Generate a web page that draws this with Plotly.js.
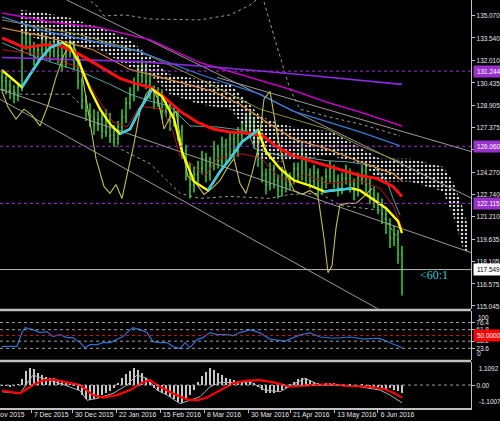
<!DOCTYPE html>
<html><head><meta charset="utf-8">
<script src="https://cdn.plot.ly/plotly-3.0.1.min.js"></script>
<style>html,body{margin:0;padding:0;background:#000;}#chart{width:500px;height:421px;}</style>
</head><body><div id="chart"></div><script>
// ---------- price bars (bar index = position) ----------
const barOpen = [130.81,130.54,130.26,129.85,129.58,130.13,133.54,133.27,132.86,132.18,
132.72,133.41,132.72,132.59,133.13,132.31,131.90,132.59,132.86,132.04,
130.54,129.17,128.48,128.07,127.53,127.94,127.12,128.07,126.84,126.57,
127.39,128.07,129.03,129.58,130.26,130.95,131.36,130.54,129.85,129.17,
129.58,128.48,128.89,127.80,128.21,127.12,125.75,124.38,123.42,124.11,
124.52,125.20,124.11,124.79,125.88,125.06,126.16,125.47,126.57,125.75,
126.84,127.25,127.80,127.53,126.43,125.20,124.11,123.42,124.52,123.70,
123.01,124.11,123.42,123.83,124.52,124.11,125.20,124.11,123.70,124.24,
123.15,123.56,123.97,124.52,123.70,123.15,123.83,124.24,123.42,123.01,
123.83,124.38,123.42,122.74,122.46,122.05,121.37,120.69,119.73,120.00,
118.63];
const barHigh = [131.36,130.95,130.67,130.26,130.40,133.96,134.37,133.82,133.27,133.13,
133.96,133.68,133.27,133.68,133.41,132.86,133.00,133.41,133.27,132.31,
130.81,129.58,129.03,128.62,128.48,128.35,128.62,128.35,127.53,127.80,
128.62,129.44,130.13,130.81,131.63,132.04,131.77,130.95,130.26,130.13,
129.99,129.30,129.17,128.76,128.62,127.53,126.16,124.93,124.65,125.06,
125.75,125.61,125.34,126.43,126.16,126.71,126.57,127.12,126.98,127.39,
127.80,128.35,128.48,127.94,126.84,125.61,124.52,124.93,124.79,124.11,
124.65,124.38,124.24,124.93,124.93,126.29,125.47,124.52,124.79,124.52,
123.97,124.52,125.06,124.79,124.11,124.24,124.79,124.52,123.83,124.24,
124.79,124.65,123.83,123.29,122.87,122.46,121.78,121.10,120.55,120.28,
119.18];
const barLow = [129.85,129.65,129.30,129.03,129.17,129.85,132.72,132.31,131.63,131.77,
132.38,132.18,131.90,132.18,131.77,131.22,131.49,132.18,131.36,129.99,
128.62,127.80,127.39,126.84,127.12,126.57,126.71,126.29,126.02,126.16,
126.98,127.66,128.62,129.17,129.85,130.40,129.99,129.30,128.62,128.76,
127.94,128.07,127.12,127.39,126.43,125.20,123.70,122.46,122.87,123.56,
124.11,123.56,123.70,124.38,124.52,124.65,124.93,125.06,125.20,125.34,
126.43,126.84,126.98,125.88,124.65,123.56,122.74,123.01,123.15,122.46,
122.60,122.87,123.01,123.42,123.56,123.70,123.56,123.15,123.29,122.60,
122.74,123.15,123.56,123.15,122.60,122.74,123.42,122.87,122.33,122.60,
123.42,122.87,122.05,121.78,121.37,120.69,120.00,119.04,119.18,117.95,
115.76];
const barClose = [130.54,130.26,129.85,129.58,130.13,133.54,133.27,132.86,132.18,132.72,
133.41,132.72,132.59,133.13,132.31,131.90,132.59,132.86,132.04,130.54,
129.17,128.48,128.07,127.53,127.94,127.12,128.07,126.84,126.57,127.39,
128.07,129.03,129.58,130.26,130.95,131.36,130.54,129.85,129.17,129.58,
128.48,128.89,127.80,128.21,127.12,125.75,124.38,123.42,124.11,124.52,
125.20,124.11,124.79,125.88,125.06,126.16,125.47,126.57,125.75,126.84,
127.25,127.80,127.53,126.43,125.20,124.11,123.42,124.52,123.70,123.01,
124.11,123.42,123.83,124.52,124.11,125.20,124.11,123.70,124.24,123.15,
123.56,123.97,124.52,123.70,123.15,123.83,124.24,123.42,123.01,123.83,
124.38,123.42,122.74,122.46,122.05,121.37,120.69,119.73,120.00,118.63,
117.549];

// ---------- moving averages on the price panel ----------
const fastX = [0,2,5,7,9.5,12,15,17,19.5,22,24.5,27,29.5,32,34.5,37.5,40,43,45,48,51.5,54.5,57,60,64,66,69.5,73,77,80.5,84.5,87.5,89.5,92.5,96,99,100];
const fastY = [131.30,130.81,130.13,131.01,132.04,132.86,133.20,132.93,131.70,129.99,128.62,127.59,126.91,127.25,128.62,129.99,129.51,127.94,125.68,123.63,123.01,124.31,125.20,126.36,127.18,125.68,124.52,123.70,123.35,122.94,123.08,123.15,123.01,122.46,121.78,120.89,120.07];
const redX = [0,5.75,10.75,14.5,19.5,24.5,29.5,33.25,37,40.25,44.5,48.75,52.75,57,61.25,65.25,68.75,72.75,77,81.25,85.25,89.5,93.75,97.75,100];
const redY = [133.54,132.86,133.07,133.00,132.38,131.56,130.74,130.40,130.13,129.51,128.48,127.73,127.25,127.05,126.98,126.77,126.02,125.41,125.06,124.72,124.38,124.04,123.83,123.29,122.60];
const orangeX = [0,11.25,22.75,32,44.5,52.75,59.5,65.75,72.75,81.25,89.5,97.75,100];
const orangeY = [134.23,133.61,132.72,131.36,130.47,129.85,128.96,127.80,126.57,125.88,124.99,124.17,123.70];
const oliveX = [0,19.5,34.5,47,57,64.5,72.75,81.25,89.5,99.5];
const oliveY = [134.78,133.75,132.59,131.01,129.65,128.62,127.94,127.25,126.09,124.99];
const blueX = [0,11.25,24.5,34.5,49.5,57,64.5,72.75,81.25,89.5,99.5];
const blueY = [134.98,133.96,133.20,132.59,131.01,130.33,129.65,128.48,127.73,127.05,126.09];
const magentaX = [0,12,24.5,37,49.5,62,72,81.25,89.5,100];
const magentaY = [135.25,134.64,134.23,133.41,131.83,130.81,129.99,129.10,128.42,127.46];
const violetX = [0,34.5,54.5,74.5,100];
const violetY = [132.18,131.90,131.49,131.01,130.33];
const tealX = [0,8.75,19.5,27,32,37,42,47,53.75,61.25,63.25,69.5,74.5,81.25,86.25,92.75,96.25,97.75,99.5];
const tealY = [133.20,132.18,131.22,130.33,129.65,129.17,128.82,127.46,127.39,127.12,125.88,125.41,125.34,125.06,124.99,124.72,123.63,122.46,121.30];
const darkRedX = [0,9.5,19.5,23.25,27.75,31.25,34.5,40.25,42.75,44.5,48.75,50.75,53.75,60.25,65,68.75,72.75,75.25,81.25,89.5,94.5,97.75,100];
const darkRedY = [132.72,132.38,131.49,129.65,127.73,127.39,128.82,128.62,127.05,125.41,124.52,123.97,125.20,125.54,125.20,124.04,123.49,124.17,123.49,123.70,123.15,121.98,120.41];
const khakiX = [0,1.5,3.5,5.5,7.5,9.5,11.5,13.5,15.5,17.5,19.5,21.5,23.5,25.5,27,28.5,30,31.5,33,34.5,36,37.5,39,40.5,42,43.5,45,46.5,48.5,50.5,52.5,54.5,56.5,58,59.5,61,62.5,64,65.5,67,69,71,73,75,77,79,80.5,81.5,82.5,83.5,84.5,86.5,88.5,90.5,92.5];
const khakiY = [129.85,128.76,127.94,128.62,128.21,127.46,128.89,130.81,132.38,133.27,131.90,128.62,125.20,123.29,122.81,123.42,122.46,124.38,126.23,128.48,129.65,130.13,129.30,127.25,128.07,128.48,125.88,123.97,123.49,122.74,123.15,123.70,124.65,125.20,123.49,122.81,124.17,125.88,129.30,129.85,126.57,124.17,123.01,122.74,123.01,122.60,119.73,117.33,117.81,120.41,122.05,122.12,122.12,122.60,123.15];
const bandUpX = [0,14.5,23.5,25.5,30.75,37,49.5,57,62,65,68.25,72,74.5,82,89.5,99.5];
const bandUpY = [138.20,137.51,135.80,135.05,135.12,134.84,134.78,135.12,135.80,136.49,133.41,129.99,128.62,128.07,127.59,126.77];
const bandLoX = [0,4.5,17,22,29.5,37,44.5,49.5,57,67,72,79.5,84.5,94.5,99.5];
const bandLoY = [129.99,129.65,129.65,128.28,125.88,124.86,122.81,122.46,122.60,122.46,122.74,122.81,121.98,121.64,119.39];
const cloudX = [4.5,9.5,17,24.5,32,37,42,49.5,57,60.75,64.5,69.5,75.25,82,90.25,94.5,102,110.25,112.75,115.25,116.25];
const cloudUpper = [135.46,135.32,134.91,134.23,133.41,132.18,131.01,130.67,130.33,129.30,128.14,127.59,127.25,127.12,125.88,125.20,125.20,124.65,123.63,121.78,120.75];
const cloudLower = [133.89,133.41,133.07,132.72,131.49,131.01,129.65,128.96,128.62,127.39,125.20,124.99,125.20,125.40,124.86,123.63,123.63,122.94,121.30,119.04,118.70];
const trendX0 = [-0.5,-0.5,16.25,53.75];
const trendY0 = [129.99,129.30,136.14,130.81];
const trendX1 = [117.5,104.5,117.5,117.5];
const trendY1 = [118.70,113.23,122.46,125.68];
const levelPrices = [131.244,126.060,122.115];
const currentPrice = 117.549;
const ratioText = '<60:1';
const ratioPos = [104, 117.2];

// ---------- RSI-like panel ----------
const rsiX = [0,3.75,5,5.75,7.75,9.5,11.25,12.75,14.5,16.25,17.75,19.5,20.75,22,23.75,25.25,27,28.75,30.25,31.5,32.75,34.5,36.25,37.75,39.5,41.25,42.75,44.5,45.75,47,48.75,50.25,52,53.75,56.25,57.75,59.5,62,64.5,67,70.75,74.5,77,79.5,83.25,87,90.75,93.25,94.5,97,100];
const rsiY = [27.7,27.7,55.9,66.1,62.0,55.9,57.9,47.6,51.7,45.6,45.6,35.3,25.0,31.2,31.2,35.3,35.3,41.5,47.6,57.9,66.1,62.0,55.9,37.4,35.3,35.3,27.1,23.0,35.3,25.0,41.5,45.6,55.9,51.7,51.7,49.7,55.9,62.0,55.2,42.5,38.3,51.0,55.2,46.8,44.2,46.8,42.5,44.2,43.4,34.9,24.7];
const rsiLevels = [23.6,38.2,61.8,76.4];
const rsiMid = 50;
const rsiLimits = [0,100];

// ---------- MACD panel ----------
const macdHist = [-0.04,-0.06,-0.08,-0.04,0.04,0.28,0.68,0.84,0.76,0.6,
0.48,0.4,0.36,0.32,0.24,0.2,0.12,0.04,-0.04,-0.24,
-0.48,-0.68,-0.72,-0.68,-0.6,-0.48,-0.36,-0.28,-0.12,0.12,
0.32,0.52,0.68,0.8,0.72,0.56,0.36,0.16,-0.12,-0.28,
-0.4,-0.48,-0.56,-0.68,-0.8,-0.84,-0.72,-0.48,-0.24,0.16,
0.44,0.64,0.8,0.72,0.6,0.48,0.36,0.28,0.24,0.2,
0.16,0.2,0.24,0.12,-0.08,-0.24,-0.36,-0.4,-0.36,-0.32,
-0.24,-0.12,0.04,0.16,0.28,0.36,0.32,0.24,0.16,0.08,
0.04,0.08,0.12,0.08,0.04,0,-0.04,0.04,-0.08,-0.04,
0.04,-0.08,-0.12,-0.08,-0.16,-0.12,-0.2,-0.16,-0.24,-0.28,
-0.36];
const macdX = [0,4.5,6.25,7.75,10.25,14.5,19.5,21.25,23.75,27.75,31.25,33.75,36.25,38.75,41.25,44.5,47,49.5,52,54.5,57.75,62,65.75,69.5,73.25,75.75,79.5,84.5,89.5,94.5,97,100];
const macdY = [-0.32,-0.4,0.08,0.48,0.32,0.08,-0.27,-0.73,-0.64,-0.4,0,0.48,0.32,-0.24,-0.48,-0.89,-0.73,-0.56,-0.08,0.12,0.12,0.16,-0.24,-0.32,0.08,0.32,0,0,-0.08,-0.24,-0.48,-0.85];
const sigX = [0,4.5,7.75,10.25,12.75,16.25,19.5,22.75,25.25,28.75,32,35.25,37,39.5,42.75,46.25,48.75,51.25,54.5,57.75,60.75,64.5,68.25,72,77,82,86.5,92,95.75,98.25,100];
const sigY = [-0.27,-0.4,0,0.23,0.27,0.13,0,-0.48,-0.6,-0.48,-0.24,0.13,0.23,-0.08,-0.4,-0.69,-0.73,-0.6,-0.27,0.08,0.2,0.24,0.12,-0.08,0,0.04,-0.04,-0.08,-0.2,-0.4,-0.6];
const macdLimits = [-1.1007,1.1092];

// ---------- axis labels ----------
const priceTicks = [135.070,133.540,132.010,130.435,128.905,127.375,125.845,124.270,122.740,121.210,119.635,118.105,116.575,115.045];
const dateIdx = [-4.8,7.25,17.6,28.5,39.6,50.5,61.5,72.1,83,93.9];
const dateLbl = ['16 Nov 2015','7 Dec 2015','30 Dec 2015','22 Jan 2016','15 Feb 2016','8 Mar 2016','30 Mar 2016','21 Apr 2016','13 May 2016','6 Jun 2016'];

// ---------- build ----------
const FONT = 'Liberation Sans, Arial, sans-serif';
const XR = [-0.5, 117.25];
const barIdx = barClose.map((_, i) => i);
const line = (x, y, color, width, extra) => Object.assign({type:'scatter', mode:'lines', x, y, line:{color, width}, hoverinfo:'skip'}, extra || {});

const trendXs = [], trendYs = [];
trendX0.forEach((x0, k) => { trendXs.push(x0, trendX1[k], null); trendYs.push(trendY0[k], trendY1[k], null); });

const cyanX = [], cyanY = [];
for (let i = 0; i < fastY.length - 1; i++) {
  if (fastY[i + 1] > fastY[i]) { cyanX.push(fastX[i], fastX[i + 1], null); cyanY.push(fastY[i], fastY[i + 1], null); }
}

const traces = [
  line(cloudX, cloudLower, 'rgba(0,0,0,0)', 0),
  line(cloudX, cloudUpper, 'rgba(0,0,0,0)', 0, {fill:'tonexty', fillcolor:'rgba(0,0,0,0)',
    fillpattern:{shape:'.', fgcolor:'#d8d8d8', bgcolor:'rgba(0,0,0,0)', size:4, solidity:0.3}}),
  line(trendXs, trendYs, '#9a9a9a', 1, {connectgaps:false}),
  line(bandUpX, bandUpY, '#9a9a9a', 1, {line:{color:'#9a9a9a', width:1, dash:'3px,3px'}}),
  line(bandLoX, bandLoY, '#9a9a9a', 1, {line:{color:'#9a9a9a', width:1, dash:'3px,3px'}}),
  {type:'ohlc', x:barIdx, open:barOpen, high:barHigh, low:barLow, close:barClose,
   increasing:{line:{color:'#3fe03f', width:1.4}}, decreasing:{line:{color:'#3fe03f', width:1.4}},
   tickwidth:0.25, hoverinfo:'skip'},
  line(tealX, tealY, '#5f9ea0', 1),
  line(darkRedX, darkRedY, '#b01818', 1),
  line(oliveX, oliveY, '#8f8f3a', 1),
  line(orangeX, orangeY, '#cd853f', 1.2),
  line(blueX, blueY, '#3a78d8', 1.3),
  line(magentaX, magentaY, '#c000c0', 1.6),
  line(violetX, violetY, '#8a2be2', 1.6),
  line(khakiX, khakiY, '#c2bd5a', 1.1),
  line(redX, redY, '#ff1010', 3),
  line(fastX, fastY, '#ffff00', 2.4),
  line(cyanX, cyanY, '#30c8ff', 2.4, {connectgaps:false}),
  line(rsiX, rsiY, '#2f6fd0', 1.2, {yaxis:'y2'}),
  {type:'bar', x:barIdx, y:macdHist, yaxis:'y3', width:0.3, marker:{color:'#c8c8c8', line:{width:0}}, hoverinfo:'skip'},
  line(macdX, macdY, '#b0b0b0', 1, {yaxis:'y3'}),
  line(sigX, sigY, '#ff0000', 2.2, {yaxis:'y3'})
];

const tickFont = {family:FONT, size:8, color:'#e8e8e8'};
const smallFont = {family:FONT, size:7.5, color:'#e8e8e8'};
const yCommon = {side:'right', anchor:'x', showgrid:false, zeroline:false, showline:true, linecolor:'#c0c0c0', linewidth:1,
  ticks:'outside', ticklen:3, tickcolor:'#c0c0c0', tickfont:tickFont, fixedrange:true};

const shapes = [];
levelPrices.forEach(v => shapes.push({type:'line', xref:'paper', x0:0, x1:1, yref:'y', y0:v, y1:v, line:{color:'#9932cc', width:1, dash:'dot'}}));
shapes.push({type:'line', xref:'paper', x0:0, x1:1, yref:'y', y0:currentPrice, y1:currentPrice, line:{color:'#b8b8b8', width:1}});
rsiLevels.forEach(v => shapes.push({type:'line', xref:'paper', x0:0, x1:1, yref:'y2', y0:v, y1:v, line:{color:'#a0a0a0', width:1, dash:'dot'}}));
shapes.push({type:'line', xref:'paper', x0:0, x1:1, yref:'y2', y0:rsiMid, y1:rsiMid, line:{color:'#d01010', width:1, dash:'dot'}});
shapes.push({type:'line', xref:'paper', x0:0, x1:1, yref:'y3', y0:0, y1:0, line:{color:'#a0a0a0', width:1, dash:'dot'}});
[0.2404, 0.1154].forEach(p => shapes.push({type:'line', xref:'paper', x0:0, x1:1, yref:'paper', y0:p, y1:p, line:{color:'#c0c0c0', width:2.5}}));

const annotations = [];
const boxFont = c => ({family:FONT, size:7.5, color:c});
levelPrices.forEach(v => annotations.push({xref:'paper', x:1, xanchor:'left', xshift:2, yref:'y', y:v, yanchor:'middle',
  text:v.toFixed(3), showarrow:false, bgcolor:'#9932cc', borderpad:1, font:boxFont('#ffffff')}));
annotations.push({xref:'paper', x:1, xanchor:'left', xshift:2, yref:'y', y:currentPrice, yanchor:'middle',
  text:currentPrice.toFixed(3), showarrow:false, bgcolor:'#ffffff', borderpad:1, font:boxFont('#000000')});
annotations.push({xref:'paper', x:1, xanchor:'left', xshift:2, yref:'y2', y:rsiMid, yanchor:'middle',
  text:rsiMid.toFixed(4), showarrow:false, bgcolor:'#ff0000', borderpad:1, font:boxFont('#ffffff')});
annotations.push({xref:'paper', x:1, xanchor:'left', xshift:4, yref:'y2', y:rsiLimits[1], yanchor:'top', text:String(rsiLimits[1]), showarrow:false, font:smallFont});
annotations.push({xref:'paper', x:1, xanchor:'left', xshift:4, yref:'y2', y:rsiLimits[0], yanchor:'bottom', text:String(rsiLimits[0]), showarrow:false, font:smallFont});
annotations.push({xref:'paper', x:1, xanchor:'left', xshift:4, yref:'y3', y:macdLimits[1], yanchor:'top', text:macdLimits[1].toFixed(4), showarrow:false, font:smallFont});
annotations.push({xref:'paper', x:1, xanchor:'left', xshift:4, yref:'y3', y:macdLimits[0], yanchor:'bottom', text:macdLimits[0].toFixed(4), showarrow:false, font:smallFont});
const nRight = annotations.length;
dateIdx.forEach((d, k) => annotations.push({xref:'paper', x:(d - XR[0]) / (XR[1] - XR[0]), xanchor:'left', xshift:-1,
  yref:'paper', y:0, yanchor:'top', yshift:0, text:dateLbl[k], showarrow:false, font:smallFont}));
const nDates = annotations.length;
annotations.push({xref:'x', x:ratioPos[0], yref:'y', y:ratioPos[1], xanchor:'left', yanchor:'middle', text:ratioText.replace('<','&lt;'),
  showarrow:false, font:{family:'Liberation Serif, DejaVu Serif, serif', size:12, color:'#33cccc'}});

const layout = {
  width:500, height:421, margin:{l:0, r:29, t:0, b:13, pad:0},
  paper_bgcolor:'#000000', plot_bgcolor:'#000000', showlegend:false, bargap:0,
  font:{family:FONT, size:8, color:'#e8e8e8'},
  xaxis:{range:XR, anchor:'y3', showgrid:false, zeroline:false, showline:true, linecolor:'#c0c0c0', linewidth:1.5,
    ticks:'outside', ticklen:3, tickcolor:'#c0c0c0', tickvals:dateIdx, showticklabels:false, rangeslider:{visible:false}, fixedrange:true},
  yaxis:Object.assign({}, yCommon, {domain:[0.243,1], range:[114.84,136.15], tickvals:priceTicks, ticktext:priceTicks.map(v => v.toFixed(3))}),
  yaxis2:Object.assign({}, yCommon, {domain:[0.118,0.2377], range:rsiLimits, tickvals:rsiLevels, ticktext:rsiLevels.map(String),
    tickfont:{family:FONT, size:6.5, color:'#e8e8e8'}}),
  yaxis3:Object.assign({}, yCommon, {domain:[0,0.1128], range:macdLimits, tickvals:[0], ticktext:['0.00']}),
  shapes, annotations
};

// the reference uses a narrow terminal font: condense the scale texts to the widths it shows
function condense(el, k) {
  const w = el.getComputedTextLength();
  if (w > 0) { el.setAttribute('textLength', (w * k).toFixed(1)); el.setAttribute('lengthAdjust', 'spacingAndGlyphs'); }
}
Plotly.newPlot('chart', traces, layout, {displayModeBar:false, staticPlot:true}).then(gd => {
  gd.querySelectorAll('.ytick text, .y3tick text').forEach(t => condense(t, 0.8));
  gd.querySelectorAll('.annotation').forEach(g => {
    const idx = +g.getAttribute('data-index');
    if (idx < nRight) g.querySelectorAll('text').forEach(t => condense(t, 0.85));
    else if (idx < nDates) g.querySelectorAll('text').forEach(t => condense(t, 0.9));
  });
});
</script></body></html>
